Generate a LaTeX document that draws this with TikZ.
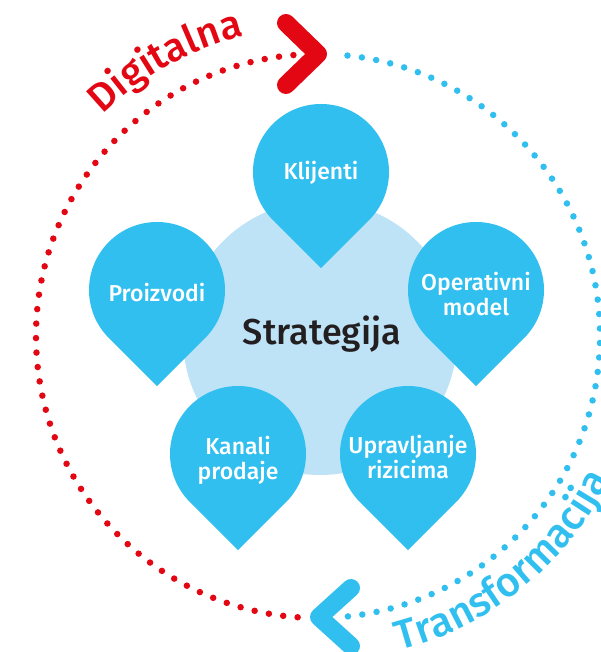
\documentclass[tikz,border=0pt]{standalone}
\usepackage{fontspec}
\setmainfont{Fira Sans}
\newfontfamily\medfont{Fira Sans}[UprightFont={* Medium}]
\usetikzlibrary{decorations.text}
\definecolor{dropblue}{HTML}{31BFEF}
\definecolor{paleblue}{HTML}{BEE3F7}
\definecolor{ringred}{HTML}{E30613}
\definecolor{darktext}{HTML}{231F20}
\begin{document}
\begin{tikzpicture}[x=1pt,y=1pt,
  drop/.pic={\fill[dropblue] (0,-96.2) -- (-45:68) arc[start angle=-45,end angle=225,radius=68] -- cycle;},
  lbl/.style={text=white, font=\medfont\fontsize{23}{25}\selectfont, align=center, inner sep=0pt},
  dots/.style={line width=6.5pt, line cap=round, dash pattern=on 0pt off 14.5pt},
  chev/.style={line width=18pt, line cap=round, line join=round},
]
\useasboundingbox (0,0) rectangle (601,652);
\coordinate (C) at (318,316);
% dotted ring
\draw[dots, ringred] (C) ++(95:282) arc[start angle=95,end angle=266,radius=282];
\draw[dots, dropblue] (C) ++(84:282) arc[start angle=84,end angle=-84,radius=282];
% chevrons
\coordinate (ra1) at (286,629);
\coordinate (rtip) at (318,598);
\coordinate (ra2) at (286,567);
\draw[chev, ringred] (ra1) -- (rtip) -- (ra2);
\coordinate (ba1) at (351,64);
\coordinate (btip) at (319,35);
\coordinate (ba2) at (351,6);
\draw[chev, dropblue] (ba1) -- (btip) -- (ba2);
% ring texts
\path[decorate, decoration={text along path, text align=center,
  text={|\medfont\fontsize{40}{40}\selectfont\color{ringred}|Digitalna}}]
  (C) ++(150:309) arc[start angle=150,end angle=88,radius=309];
\path[decorate, decoration={text along path,
  text={|\medfont\fontsize{41}{41}\selectfont\color{dropblue}|Transformacija}}]
  (C) ++(-75.5:325) arc[start angle=-75.5,end angle=-5,radius=325];
% core
\node[circle, fill=paleblue, minimum size=274pt, inner sep=0pt] (core) at (320,314) {};
\node[anchor=base, text=darktext, font=\medfont\fontsize{36}{36}\selectfont, inner sep=0pt] (strat) at (322,307) {Strategija};
% drops
\pic at (321,480) {drop};
\pic at (157,362) {drop};
\pic at (476,362) {drop};
\pic at (238,198) {drop};
\pic at (408,198) {drop};
\node[lbl, anchor=base] (klijenti) at (321,472) {Klijenti};
\node[lbl, anchor=base] (proizvodi) at (157,350) {Proizvodi};
\node[lbl] (operativni) at (476,358) {Operativni\\model};
\node[lbl] (kanali) at (238,192) {Kanali\\prodaje};
\node[lbl] (upravljanje) at (408,195) {Upravljanje\\rizicima};
\end{tikzpicture}
\end{document}
